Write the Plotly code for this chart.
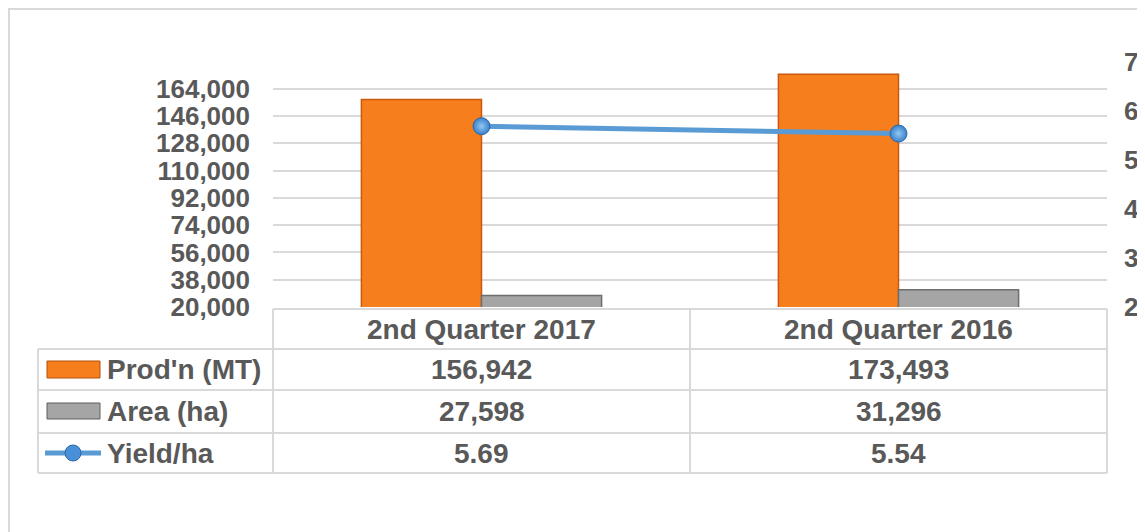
import plotly.graph_objects as go

quarters = ["2nd Quarter 2017", "2nd Quarter 2016"]
production = [156942, 173493]
area = [27598, 31296]
yield_ha = [5.69, 5.54]
left_ticks = [20000, 38000, 56000, 74000, 92000, 110000, 128000, 146000, 164000]
right_ticks = [2, 3, 4, 5, 6, 7]

W, H = 1145, 532
OFF = 8  # page body margin shifts the figure
L, R, T, B = 273, 1107, 62, 307  # plot area in screen pixels
GRID = "#D9D9D9"
TXT = "#595959"
FONT = "Liberation Sans, Arial, sans-serif"


def px(x):
    return (x - L) / (R - L)


def py(y):
    return (B - y) / (B - T)


fig = go.Figure()
fig.add_trace(go.Bar(x=quarters, y=production, name="Prod'n (MT)",
                     marker=dict(color="#F67E1D", line=dict(color="#C9590C", width=1.5))))
fig.add_trace(go.Bar(x=quarters, y=area, name="Area (ha)",
                     marker=dict(color="#A5A5A5", line=dict(color="#6E6E6E", width=1.5))))
fig.add_trace(go.Scatter(x=quarters, y=yield_ha, name="Yield/ha", yaxis="y2",
                         mode="lines+markers",
                         line=dict(color="#5B9BD5", width=5),
                         marker=dict(size=17, color="#3A80C9",
                                     gradient=dict(type="radial", color="#92C8F4"),
                                     line=dict(color="#2A69A8", width=1))))

shapes = []


def hline(y, x0, x1):
    shapes.append(dict(type="line", xref="paper", yref="paper", x0=px(x0), x1=px(x1),
                       y0=py(y), y1=py(y), line=dict(color=GRID, width=2)))


def vline(x, y0, y1):
    shapes.append(dict(type="line", xref="paper", yref="paper", x0=px(x), x1=px(x),
                       y0=py(y0), y1=py(y1), line=dict(color=GRID, width=2)))


# outer chart border
shapes.append(dict(type="rect", xref="paper", yref="paper", x0=px(9), x1=px(1170),
                   y0=py(9), y1=py(560), line=dict(color=GRID, width=2)))

# data table
hline(309, 273, 1107)
for yy in [349, 390, 433, 473]:
    hline(yy, 38, 1107)
for xx in [273, 690, 1107]:
    vline(xx, 309, 473)
vline(38, 349, 473)

# legend keys
shapes.append(dict(type="rect", xref="paper", yref="paper", x0=px(47), x1=px(100),
                   y0=py(361), y1=py(378), fillcolor="#F67E1D", line=dict(color="#B4500A", width=1)))
shapes.append(dict(type="rect", xref="paper", yref="paper", x0=px(47), x1=px(100),
                   y0=py(403), y1=py(419), fillcolor="#A5A5A5", line=dict(color="#5F5F5F", width=1)))
shapes.append(dict(type="line", xref="paper", yref="paper", x0=px(45), x1=px(101),
                   y0=py(453), y1=py(453), line=dict(color="#5B9BD5", width=5)))
shapes.append(dict(type="circle", xref="paper", yref="paper", x0=px(65), x1=px(81),
                   y0=py(445), y1=py(461), fillcolor="#4A90D9", line=dict(color="#2A69A8", width=1)))

annotations = []
tfont = dict(family=FONT, size=28, color=TXT, weight="bold")


def cell(x, xref, y, text, xanchor="center"):
    annotations.append(dict(x=x, xref=xref, y=py(y), yref="paper", text=text,
                            xanchor=xanchor, yanchor="middle", showarrow=False, font=tfont))


for i, q in enumerate(quarters):
    cell(q, "x", 329, q)
    cell(q, "x", 369, f"{production[i]:,}")
    cell(q, "x", 411, f"{area[i]:,}")
    cell(q, "x", 453, f"{yield_ha[i]:.2f}")
for tr, yy in zip(fig.data, [369, 411, 453]):
    cell(px(105), "paper", yy, tr.name, xanchor="left")

fig.update_layout(
    width=W, height=H,
    margin=dict(l=L - OFF, r=W - R + OFF, t=T - OFF, b=H - B + OFF, autoexpand=False),
    paper_bgcolor="white", plot_bgcolor="white",
    barmode="group", bargap=0.424, bargroupgap=0,
    showlegend=False,
    shapes=shapes, annotations=annotations,
    xaxis=dict(showticklabels=False, showgrid=False, zeroline=False, showline=False),
    yaxis=dict(range=[20000, 181600], tickvals=left_ticks, tickformat=",",
               showgrid=True, gridcolor=GRID, gridwidth=2, zeroline=False,
               ticklabelstandoff=22, automargin=False,
               tickfont=dict(family=FONT, size=26, color=TXT, weight="bold")),
    yaxis2=dict(range=[2, 7], tickvals=right_ticks, overlaying="y", side="right",
                showgrid=False, zeroline=False, ticklabelstandoff=16, automargin=False,
                tickfont=dict(family=FONT, size=26, color=TXT, weight="bold")),
)

fig.write_html("out.html")
